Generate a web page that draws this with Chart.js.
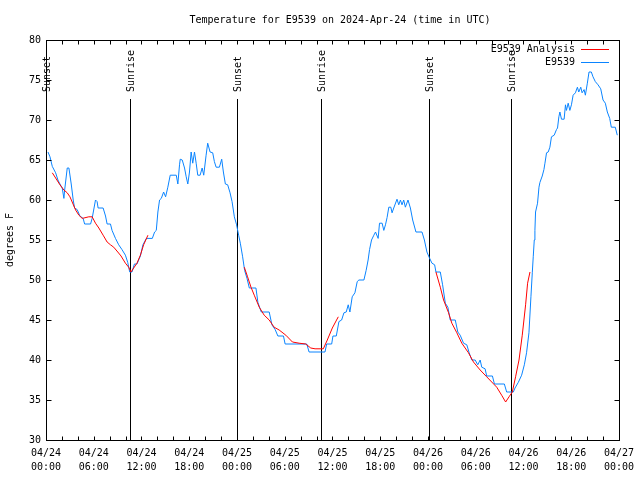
<!DOCTYPE html>
<html><head><meta charset="utf-8">
<script src="https://cdn.jsdelivr.net/npm/chart.js@4/dist/chart.umd.min.js"></script>
<style>html,body{margin:0;padding:0;background:#fff}canvas{display:block}</style>
</head><body>
<canvas id="c" width="640" height="480"></canvas>
<script>
const titleText = 'Temperature for E9539 on 2024-Apr-24 (time in UTC)';
const yAxisLabel = 'degrees F';
const seriesNames = ['E9539 Analysis', 'E9539'];
const tickDates = ['04/24','04/24','04/24','04/24','04/25','04/25','04/25','04/25','04/26','04/26','04/26','04/26','04/27'];
const tickTimes = ['00:00','06:00','12:00','18:00','00:00','06:00','12:00','18:00','00:00','06:00','12:00','18:00','00:00'];
// hours since 04/24 00:00 UTC
const eventHours = [0, 10.52, 24.04, 34.56, 48.08, 58.48];
const eventLabels = ['Sunset','Sunrise','Sunset','Sunrise','Sunset','Sunrise'];

const blueHours = [0.25,0.5,0.79,1.21,1.5,1.75,2.04,2.25,2.34,2.67,2.88,3.17,3.42,3.59,3.92,4.26,4.67,4.85,5.6,5.8,6.22,6.42,6.55,7.18,7.48,7.68,8.1,8.3,8.73,9.14,9.55,9.98,10.27,10.52,10.81,11.11,11.43,11.86,12.18,12.61,13.36,13.65,13.86,14.06,14.27,14.49,14.78,15.03,15.31,15.61,16.37,16.57,16.78,16.87,17.12,17.41,17.62,17.82,18.03,18.24,18.44,18.66,18.87,19.07,19.37,19.62,19.82,20.12,20.32,20.62,20.95,21.16,21.38,21.79,22.08,22.29,22.54,22.83,23.13,23.38,23.67,23.95,24.21,24.42,24.71,24.96,25.26,25.55,26.38,26.63,27.05,28.05,28.39,28.8,29.14,29.84,30.05,32.77,33.06,35.06,35.27,35.9,36.06,36.48,36.81,37.15,37.44,37.73,37.98,38.19,38.48,38.82,39.11,39.32,39.95,40.23,40.48,40.66,40.91,41.2,41.41,41.74,41.91,42.24,42.45,42.66,42.86,43.08,43.33,43.49,43.7,44.11,44.33,44.54,44.74,44.95,45.16,45.49,45.79,46.08,46.49,47.25,47.55,47.87,48.17,48.5,48.84,49.0,49.55,49.84,50.18,50.5,50.8,51.43,51.75,52.05,52.47,52.88,53.18,53.51,53.93,54.26,54.56,54.76,55.18,55.38,56.1,56.35,57.6,57.89,58.73,58.94,59.35,59.77,60.11,60.39,60.69,60.94,61.11,61.23,61.36,61.44,61.52,61.77,61.95,62.07,62.36,62.57,62.7,62.9,63.11,63.32,63.52,63.86,64.15,64.28,64.45,64.58,64.78,65.11,65.28,65.4,65.62,65.83,66.03,66.24,66.53,66.78,66.95,67.2,67.37,67.62,67.78,68.03,68.24,68.53,68.74,69.03,69.37,69.71,70.0,70.29,70.54,70.84,71.04,71.54,71.79];
const blueTemps = [66,65.4,64.2,63.4,62.5,62,61.5,60.2,61.2,64,64,62,60,59,58.8,58,57.7,57,57,57.7,60,59.8,59,59,58,57,57,56.2,55.2,54.4,53.8,53.1,52.2,51,51,52,52,53,54.4,55.2,55.2,56,56.2,58.5,60,60.2,61,60.4,61.6,63.1,63.1,62,64.4,65.1,65,64,62.9,62,63.5,66,64.6,66,64.6,63.1,63.1,64,63.1,65.6,67.1,66,65.9,64.8,64.1,64.1,65.1,63.5,62,61.9,60.9,59.8,57.9,56.9,55.6,54.6,52.9,51.2,50.2,49,49,47.2,46,46,44.4,43.8,43,43,42,42,41,41,42,42,43,43,44.8,45,45.9,46,46.9,46,47.9,48.4,49.8,50,50,51.2,52.5,53.8,55,55.6,56,55.2,57.1,57.1,56.2,56.9,57.8,59.1,59.1,58.4,59,60.1,59.4,60,59.4,60,59.1,60,59,57.5,56,56,55,53.5,52.8,52.1,51.9,51,51,49.4,47.1,46.6,45,45,43.5,43.1,42.1,41.9,40.9,40,40,39.4,40,39.1,38.9,38,38,37,37,36,36,36.5,37.2,38.1,39.4,40.9,43.4,47.9,50.9,52.9,55,56.2,58.5,59.6,61.6,62.2,63,63.8,64.6,65.9,66,66.6,67.9,68.1,68.8,69,70.4,71,70.1,70.1,71.9,71.2,72.1,71.2,71.9,73.1,73.4,74.1,73.5,74.1,73.4,73.8,73.1,74.6,76,76,75.4,74.8,74.4,73.9,72.5,72.1,71,70.2,69.1,69.1,68.1];

const redHours = [0.79,1.21,1.75,2.25,2.67,3.01,3.29,3.72,4.13,4.55,4.76,5.38,5.8,6.22,6.64,7.18,7.68,8.1,8.51,9.02,9.43,9.98,10.39,10.68,11.02,11.43,11.86,12.27,12.81,
  18,
  24.92,25.33,25.76,26.17,26.8,27.42,28.05,28.67,29.3,30.14,30.97,31.81,32.64,33.27,33.81,34.85,35.35,35.98,36.73,
  43,
  49.0,49.55,49.96,50.59,51.0,51.63,52.25,53.09,53.72,54.56,55.38,56.01,56.64,57.26,57.76,58.19,58.6,59.01,59.44,59.85,60.27,60.52,60.82];
const redTemps = [63.4,62.75,61.9,61.25,60.9,60.4,59.75,58.75,58.1,57.7,57.75,57.9,57.9,57.1,56.5,55.6,54.75,54.4,54.1,53.5,53,52.1,51.6,51,51.5,52.1,53.1,54.4,55.6,
  null,
  51.6,50.4,49.1,48.1,46.6,45.6,45,44.1,43.75,43.1,42.25,42.1,42,41.5,41.4,41.4,42.5,44,45.4,
  null,
  51,49.1,47.5,45.9,44.6,43.4,42.1,40.9,39.75,38.75,37.9,37.25,36.6,35.6,34.75,35.4,36,37.9,40,43.1,46.9,49.6,51];

const FONT_FAMILY = '"DejaVu Sans Mono", "Liberation Mono", monospace';
const FONT = '10px ' + FONT_FAMILY;
const RED = '#ff0000', BLUE = '#0a84ff';

Chart.defaults.font.family = FONT_FAMILY;
Chart.defaults.font.size = 10;
Chart.defaults.color = '#000';

const decor = {
  id: 'decor',
  beforeDatasetsDraw(chart) {
    const {ctx, chartArea: a, scales: {x}} = chart;
    ctx.save();
    ctx.strokeStyle = '#000'; ctx.lineWidth = 1; ctx.fillStyle = '#000'; ctx.font = FONT;
    eventHours.forEach((h, i) => {
      const px = Math.round(x.getPixelForValue(h)) + 0.5;
      ctx.beginPath(); ctx.moveTo(px, a.top + 59); ctx.lineTo(px, a.bottom); ctx.stroke();
      ctx.save();
      ctx.translate(px + 0.5, a.top + 52);
      ctx.rotate(-Math.PI / 2);
      ctx.textAlign = 'left'; ctx.textBaseline = 'middle';
      ctx.fillText(eventLabels[i], 0, 0);
      ctx.restore();
    });
    ctx.restore();
  },
  afterDraw(chart) {
    const {ctx, chartArea: a, scales: {x, y}} = chart;
    ctx.save();
    ctx.strokeStyle = '#000'; ctx.lineWidth = 1; ctx.fillStyle = '#000'; ctx.font = FONT;
    const L = Math.round(a.left) + 0.5, R = Math.round(a.right) + 0.5;
    const T = Math.round(a.top) + 0.5, B = Math.round(a.bottom) + 0.5;
    ctx.strokeRect(L, T, R - L, B - T);
    ctx.beginPath();
    x.ticks.forEach(t => {
      const p = Math.round(x.getPixelForValue(t.value)) + 0.5;
      ctx.moveTo(p, B); ctx.lineTo(p, B - 4);
      ctx.moveTo(p, T); ctx.lineTo(p, T + 4);
    });
    y.ticks.forEach(t => {
      const p = Math.round(y.getPixelForValue(t.value)) + 0.5;
      ctx.moveTo(L, p); ctx.lineTo(L + 5, p);
      ctx.moveTo(R, p); ctx.lineTo(R - 5, p);
    });
    ctx.stroke();
    // title
    ctx.textAlign = 'center'; ctx.textBaseline = 'middle';
    ctx.fillText(titleText, 340, 20);
    // y label
    ctx.save(); ctx.translate(10, 240); ctx.rotate(-Math.PI / 2);
    ctx.fillText(yAxisLabel, 0, 0); ctx.restore();
    // legend
    const colors = [RED, BLUE];
    seriesNames.forEach((n, i) => {
      const ly = 49 + i * 13;
      ctx.textAlign = 'right'; ctx.fillStyle = '#000';
      ctx.fillText(n, 575, ly);
      ctx.strokeStyle = colors[i];
      ctx.beginPath(); ctx.moveTo(581, ly + 0.5); ctx.lineTo(609, ly + 0.5); ctx.stroke();
    });
    ctx.restore();
  }
};

new Chart(document.getElementById('c'), {
  type: 'line',
  data: {
    datasets: [
      { label: seriesNames[0], data: redHours.map((h, i) => ({x: h, y: redTemps[i]})),
        borderColor: RED, borderWidth: 1, pointRadius: 0, spanGaps: false, tension: 0 },
      { label: seriesNames[1], data: blueHours.map((h, i) => ({x: h, y: blueTemps[i]})),
        borderColor: BLUE, borderWidth: 1, pointRadius: 0, tension: 0 }
    ]
  },
  options: {
    responsive: false, animation: false,
    layout: { padding: { top: 40, right: 19, left: 0, bottom: 0 } },
    plugins: { legend: { display: false }, tooltip: { enabled: false }, title: { display: false } },
    scales: {
      x: {
        type: 'linear', min: 0, max: 72,
        grid: { display: false, drawTicks: false }, border: { display: false },
        ticks: {
          stepSize: 2, autoSkip: false, maxRotation: 0, padding: 6,
          font: { size: 10, lineHeight: 1.4 }, color: '#000',
          callback: (v) => { const r = Math.round(v); return r % 6 === 0 ? [tickDates[r / 6], tickTimes[r / 6]] : ''; }
        },
        afterFit: (s) => { s.height = 40; }
      },
      y: {
        min: 30, max: 80,
        grid: { display: false, drawTicks: false }, border: { display: false },
        ticks: { stepSize: 5, padding: 5, color: '#000' },
        afterFit: (s) => { s.width = 46; }
      }
    }
  },
  plugins: [decor]
});
</script>
</body></html>
